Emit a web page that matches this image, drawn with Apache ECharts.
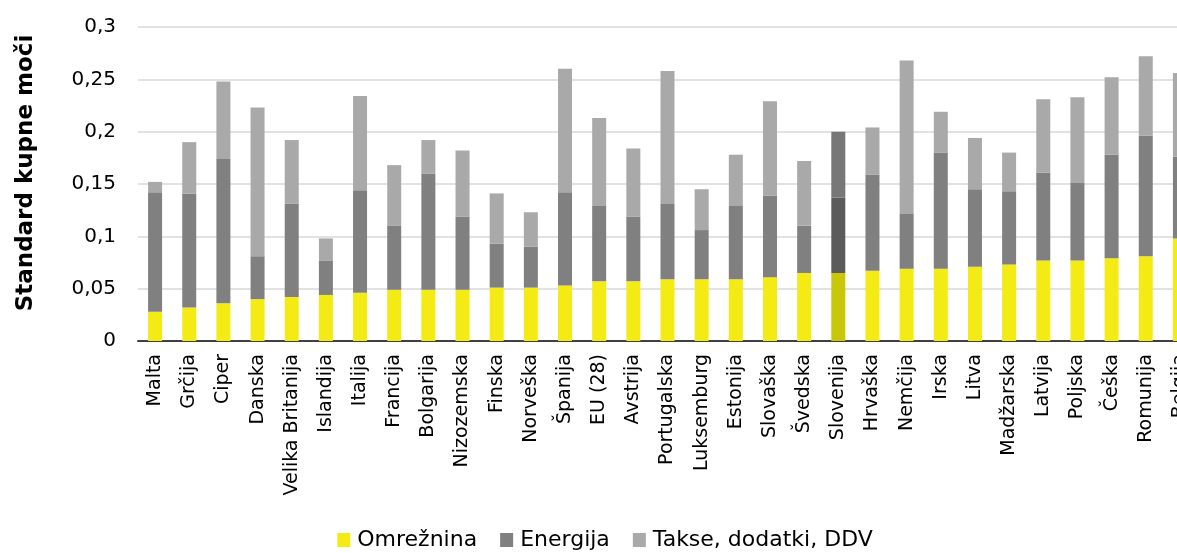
<!DOCTYPE html>
<html>
<head>
<meta charset="utf-8">
<script src="https://cdn.jsdelivr.net/npm/echarts@6/dist/echarts.min.js"></script>
<style>
html,body{margin:0;padding:0;overflow:hidden;background:#fff;}
#chart{width:1210px;height:553px;}
</style>
</head>
<body>
<div id="chart"></div>
<script>
const categories = ['Malta','Grčija','Ciper','Danska','Velika Britanija','Islandija','Italija','Francija','Bolgarija','Nizozemska','Finska','Norveška','Španija','EU (28)','Avstrija','Portugalska','Luksemburg','Estonija','Slovaška','Švedska','Slovenija','Hrvaška','Nemčija','Irska','Litva','Madžarska','Latvija','Poljska','Češka','Romunija','Belgija'];
const omreznina = [0.028,0.032,0.036,0.040,0.042,0.044,0.046,0.049,0.049,0.049,0.051,0.051,0.053,0.057,0.057,0.059,0.059,0.059,0.061,0.065,0.065,0.067,0.069,0.069,0.071,0.073,0.077,0.077,0.079,0.081,0.098];
const energija = [0.114,0.109,0.138,0.041,0.089,0.033,0.098,0.061,0.111,0.070,0.042,0.039,0.089,0.072,0.062,0.072,0.047,0.070,0.078,0.045,0.072,0.092,0.053,0.111,0.074,0.070,0.084,0.074,0.099,0.115,0.078];
const takse = [0.010,0.049,0.074,0.142,0.061,0.021,0.090,0.058,0.032,0.063,0.048,0.033,0.118,0.084,0.065,0.127,0.039,0.049,0.090,0.062,0.063,0.045,0.146,0.039,0.049,0.037,0.070,0.082,0.074,0.076,0.080];
const yTickLabels = ['0','0,05','0,1','0,15','0,2','0,25','0,3'];
const yTitle = 'Standard kupne moči';
const highlight = 'Slovenija';

const FONT = '"DejaVu Sans", sans-serif';
function mk(values, base, hl) {
  return values.map((v, i) => categories[i] === highlight
    ? {value: v, itemStyle: {color: hl}}
    : {value: v, itemStyle: {color: base}});
}

const chart = echarts.init(document.getElementById('chart'));
chart.setOption({
  animation: false,
  textStyle: {fontFamily: FONT},
  grid: {left: 138, right: 13, top: 27, bottom: 212, containLabel: false},
  graphic: [{
    type: 'text', x: 26, y: 173, rotation: Math.PI / 2,
    style: {text: yTitle, font: 'bold 23px "DejaVu Sans"', fill: '#000', textAlign: 'center', textVerticalAlign: 'middle'}
  }],
  legend: {
    bottom: -3,
    left: 'center',
    itemWidth: 13, itemHeight: 14, itemGap: 23,
    icon: 'rect',
    textStyle: {fontSize: 22, color: '#000', fontFamily: FONT, padding: [0,0,0,2]},
    data: ['Omrežnina','Energija','Takse, dodatki, DDV']
  },
  xAxis: {
    type: 'category',
    data: categories,
    axisLine: {lineStyle: {color: '#404040', width: 2}},
    axisTick: {show: false},
    axisLabel: {rotate: 90, interval: 0, fontSize: 19, color: '#000', margin: 13, fontFamily: FONT}
  },
  yAxis: {
    type: 'value',
    min: 0, max: 0.3, interval: 0.05,
    axisLine: {show: false},
    axisTick: {show: false},
    splitLine: {lineStyle: {color: '#d9d9d9', width: 1.5}},
    axisLabel: {
      fontSize: 20, color: '#000', margin: 22, fontFamily: FONT,
      formatter: v => yTickLabels[Math.round(v / 0.05)]
    }
  },
  series: [
    {name: 'Omrežnina', type: 'bar', stack: 't', barWidth: 14, itemStyle: {color: '#f5eb14'}, data: mk(omreznina, '#f5eb14', '#c8c808')},
    {name: 'Energija', type: 'bar', stack: 't', barWidth: 14, itemStyle: {color: '#808080'}, data: mk(energija, '#808080', '#5b5b5b')},
    {name: 'Takse, dodatki, DDV', type: 'bar', stack: 't', barWidth: 14, itemStyle: {color: '#a9a9a9'}, data: mk(takse, '#a9a9a9', '#777777')}
  ]
});
</script>
</body>
</html>
